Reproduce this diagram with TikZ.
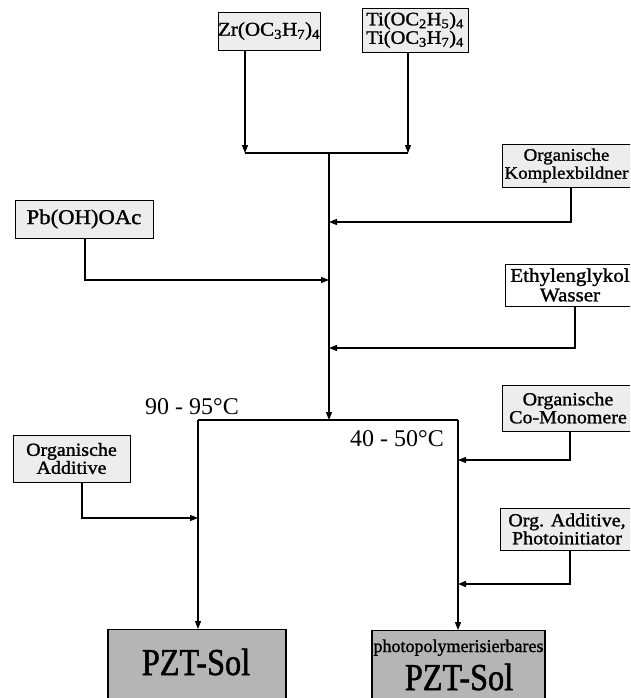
\documentclass[tikz,border=0pt]{standalone}
\usepackage{fontspec}
\setmainfont{Liberation Serif}
\newfontfamily\bx[FakeStretch=1.08,FakeBold=1.3]{Liberation Serif}
\newfontfamily\cond[FakeStretch=0.85,FakeBold=1.3]{Liberation Serif}
\newfontfamily\semi[FakeBold=1.3]{Liberation Serif}
\usetikzlibrary{arrows.meta}
\tikzset{
  src/.style={draw, line width=0.9pt, fill=gray!14, inner sep=0pt, align=center,
              font=\bx\fontsize{18.5}{18}\selectfont},
  solbox/.style={draw, line width=1.2pt, fill=gray!58, inner sep=0pt},
  ln/.style={line width=1.2pt},
  arr/.style={line width=1.2pt, -{Triangle[length=8pt,width=6pt]}},
  temp/.style={anchor=base west, inner sep=0pt, font=\fontsize{24}{24}\selectfont},
}
\begin{document}
\begin{tikzpicture}[x=1pt,y=-1pt]
\useasboundingbox (0,0) rectangle (630,698);
\clip (0,0) rectangle (630,698);
% source boxes
\node[src, minimum width=94pt, minimum height=38pt, font=\bx\fontsize{19.5}{18}\selectfont] (zr) at (269,31)
  {Zr(OC\textsubscript{3}H\textsubscript{7})\textsubscript{4}};
\node[src, minimum width=106pt, minimum height=44pt, font=\bx\fontsize{19}{18.5}\selectfont] (ti) at (415,30)
  {Ti(OC\textsubscript{2}H\textsubscript{5})\textsubscript{4}\\Ti(OC\textsubscript{3}H\textsubscript{7})\textsubscript{4}};
\node[src, minimum width=129pt, minimum height=43pt, font=\bx\fontsize{17.5}{18}\selectfont] (komp) at (566.5,165.5)
  {Organische\\Komplexbildner};
\node[src, minimum width=138pt, minimum height=38pt, font=\bx\fontsize{21}{21}\selectfont] (pb) at (84,219)
  {Pb(OH)OAc};
\node[src, fill=white, minimum width=130pt, minimum height=42pt, font=\bx\fontsize{19.5}{19.5}\selectfont] (eth) at (570,285)
  {Ethylenglykol\\Wasser};
\node[src, minimum width=132pt, minimum height=46pt] (como) at (568,408)
  {Organische\\Co-Monomere};
\node[src, minimum width=117pt, minimum height=47pt] (oadd) at (71.5,458.5)
  {Organische\\Additive};
\node[src, minimum width=134pt, minimum height=42pt] (orgadd) at (567,529)
  {Org. Additive,\\Photoinitiator};
% product boxes
\node[solbox, minimum width=178pt, minimum height=90pt, anchor=north] (sol1) at (197,629) {};
\node[solbox, minimum width=173pt, minimum height=90pt, anchor=north] (sol2) at (458.5,630) {};
\node[anchor=base, inner sep=0pt, font=\cond\fontsize{38}{38}\selectfont] (sol1t) at (196,675) {PZT-Sol};
\node[anchor=base, inner sep=0pt, font=\semi\fontsize{18}{18}\selectfont] (sol2a) at (458.5,652) {photopolymerisierbares};
\node[anchor=base, inner sep=0pt, font=\cond\fontsize{38}{38}\selectfont] (sol2b) at (459,690) {PZT-Sol};
% temperatures
\node[temp] (t1) at (145,414) {90 - 95°C};
\node[temp] (t2) at (350,446) {40 - 50°C};
% junction coordinates
\coordinate (zrx) at (245,153);
\coordinate (tix) at (408,153);
\coordinate (jt) at (329,153);
\coordinate (js) at (329,420);
\coordinate (kb) at (571,222);
\coordinate (pbb) at (85,280);
\coordinate (eb) at (575,348);
\coordinate (sl) at (198,420);
\coordinate (sr) at (458,420);
\coordinate (cb) at (570,460);
\coordinate (ob) at (82,518);
\coordinate (ab) at (570,584);
% connectors
\draw[arr] (zr.south -| zrx) -- (zrx);
\draw[arr] (ti.south -| tix) -- (tix);
\draw[ln] (zrx) -- (tix);
\draw[arr] (jt) -- (js);
\draw[arr] (komp.south -| kb) |- (jt |- kb);
\draw[arr] (pb.south -| pbb) |- (jt |- pbb);
\draw[arr] (eth.south -| eb) |- (jt |- eb);
\draw[ln] (sl) -- (sr);
\draw[arr] (sl) -- (sl |- sol1.north);
\draw[arr] (sr) -- (sr |- sol2.north);
\draw[arr] (como.south -| cb) |- (sr |- cb);
\draw[arr] (oadd.south -| ob) |- (sl |- ob);
\draw[arr] (orgadd.south -| ab) |- (sr |- ab);
\end{tikzpicture}
\end{document}
